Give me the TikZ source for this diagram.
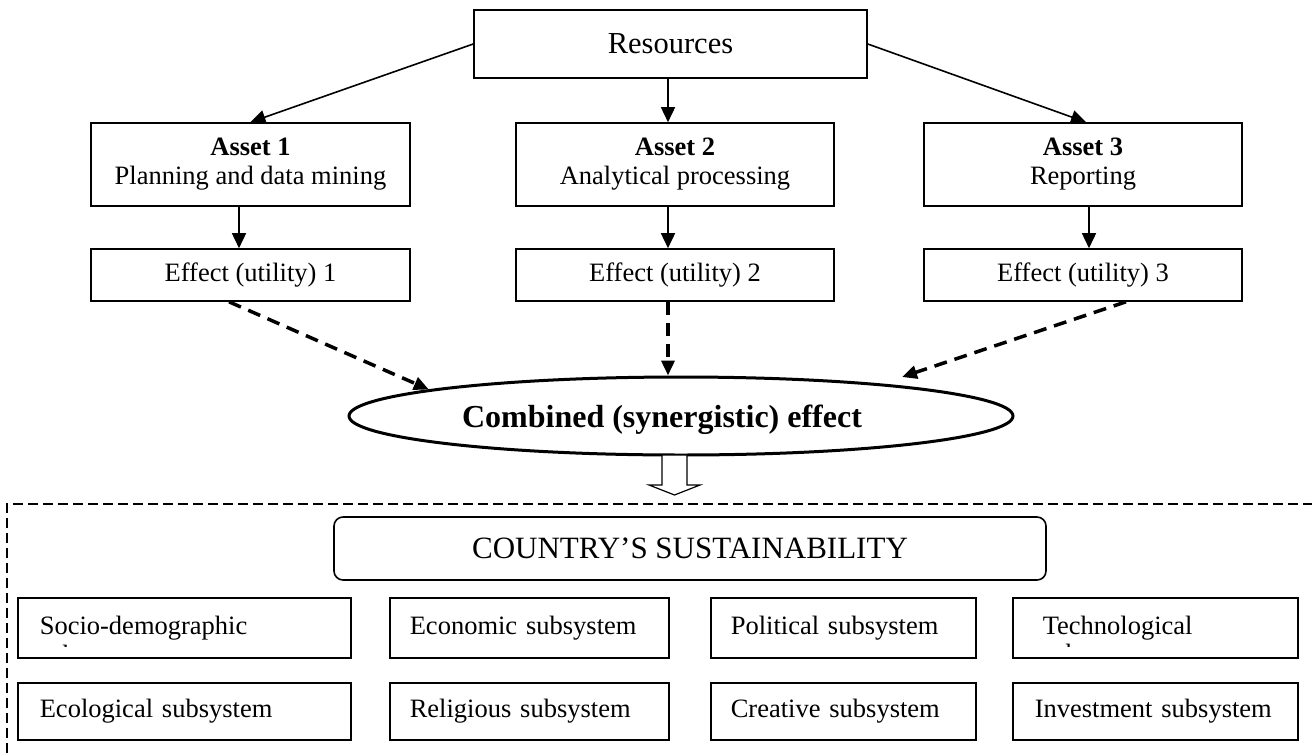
\documentclass[tikz,border=0pt]{standalone}
\usepackage{fontspec}
\setmainfont{Liberation Serif}
\usetikzlibrary{arrows.meta,shapes.geometric,calc}
\newcommand\myfA{\fontsize{26.5}{29}\selectfont}
\newcommand\myfB{\fontsize{30.5}{34}\selectfont}
\newcommand\myfC{\fontsize{32}{36}\selectfont}
\begin{document}
\begin{tikzpicture}[x=1pt,y=-1pt,
  box/.style={draw, line width=1.6pt, inner sep=0pt, font=\myfA, align=center},
  sbox/.style={draw, line width=1.6pt, inner ysep=0pt, font=\myfA, align=left, anchor=north west},
  arr/.style={line width=1.6pt, -{Triangle[length=15pt,width=14pt]}},
  darr/.style={line width=3.5pt, dash pattern=on 13pt off 8pt, -{Triangle[length=15pt,width=13pt]}},
  framedash/.style={line width=1.3pt, dash pattern=on 10pt off 5pt},
  hollow/.style={draw, line width=1.2pt, fill=white}
]
\path[use as bounding box] (0,0) rectangle (1312,753);

% top part
\node[box, font=\myfB, minimum width=393pt, minimum height=68pt] (res) at (670.5,44) {Resources};
\node[box, minimum width=319pt, minimum height=83pt] (a1) at (250.5,164.5) {\textbf{Asset 1}\\Planning and data mining};
\node[box, minimum width=318pt, minimum height=83pt] (a2) at (675,164.5) {\textbf{Asset 2}\\Analytical processing};
\node[box, minimum width=318pt, minimum height=83pt] (a3) at (1083,164.5) {\textbf{Asset 3}\\Reporting};
\node[box, minimum width=319pt, minimum height=52pt] (e1) at (250.5,275) {Effect (utility) 1};
\node[box, minimum width=318pt, minimum height=52pt] (e2) at (675,275) {Effect (utility) 2};
\node[box, minimum width=318pt, minimum height=52pt] (e3) at (1083,275) {Effect (utility) 3};

\draw[arr] (res.west) -- (a1.north);
\draw[arr] ([xshift=-2.5pt]res.south) -- ([xshift=-7pt]a2.north);
\draw[arr] (res.east) -- ([xshift=3pt]a3.north);
\draw[arr] ([xshift=-11.5pt]a1.south) -- ([xshift=-11.5pt]e1.north);
\draw[arr] ([xshift=-7pt]a2.south) -- ([xshift=-7pt]e2.north);
\draw[arr] ([xshift=6pt]a3.south) -- ([xshift=6pt]e3.north);

% ellipse
\node[draw, ellipse, line width=3pt, minimum width=664pt, minimum height=78pt, inner sep=0pt] (ell) at (681,416) {};
\node[anchor=base, font=\myfC\bfseries, inner sep=0pt] (combtxt) at (662,427) {Combined (synergistic) effect};
\coordinate (t3) at (902,377);
\draw[darr] ([xshift=-21.5pt]e1.south) -- (ell.174);
\draw[darr] ([xshift=-7pt]e2.south) -- ([xshift=-7pt]e2.south |- ell.north);
\draw[darr] ([xshift=43pt]e3.south) -- (t3);

% hollow arrow
\draw[hollow] (662,455) -- (687,455) -- (687,485) -- (700,485) -- (674.5,495) -- (649,485) -- (662,485) -- cycle;

% dashed frame
\draw[framedash] (7,753) -- (7,504) -- (1312,504);

% country
\node[draw, line width=1.6pt, rounded corners=9pt, minimum width=712pt, minimum height=63pt, inner sep=0pt, font=\fontsize{31}{34}\selectfont] (country) at (690,548.5) {COUNTRY’S SUSTAINABILITY};

% subsystems row 1
\node[sbox, inner xsep=22pt, text width=289pt, minimum height=60pt] (socio) at (17,597) {Socio-demographic};
\node[sbox, inner xsep=20pt, text width=239pt, minimum height=60pt] (econ) at (389,597) {Economic subsystem};
\node[sbox, inner xsep=20pt, text width=225pt, minimum height=60pt] (poli) at (710,597) {Political subsystem};
\node[sbox, inner xsep=30pt, text width=225pt, minimum height=60pt] (tech) at (1012,597) {Technological};
% row 2
\node[sbox, inner xsep=22pt, text width=289pt, minimum height=57pt] (eco) at (17,682) {Ecological subsystem};
\node[sbox, inner xsep=20pt, text width=239pt, minimum height=57pt] (reli) at (389,682) {Religious subsystem};
\node[sbox, inner xsep=20pt, text width=225pt, minimum height=57pt] (crea) at (710,682) {Creative subsystem};
\node[sbox, inner xsep=22pt, text width=241pt, minimum height=57pt] (inve) at (1012,682) {Investment subsystem};

% clipped second lines
\begin{scope}
\clip (17,597) rectangle (350,646);
\node[anchor=base west, inner sep=0pt, font=\myfA] (socio2) at (39,663) {subsystem};
\end{scope}
\begin{scope}
\clip (1012,597) rectangle (1297,646);
\node[anchor=base west, inner sep=0pt, font=\myfA] (tech2) at (1042,662) {subsystem};
\end{scope}
\end{tikzpicture}
\end{document}
